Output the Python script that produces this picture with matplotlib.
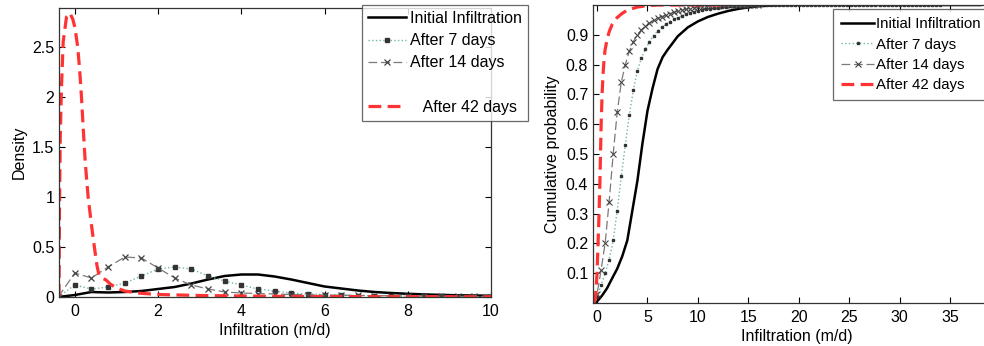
import numpy as np
import matplotlib
matplotlib.use("Agg")
import matplotlib.pyplot as plt
from matplotlib.ticker import FormatStrFormatter
from matplotlib.lines import Line2D

plt.rcParams['font.family'] = ['Liberation Sans', 'DejaVu Sans']
plt.rcParams['font.size'] = 11.5

# ---- density panel data ----
dens_x = [-0.4, 0.0, 0.4, 0.8, 1.2, 1.6, 2.0, 2.4, 2.8, 3.2, 3.6, 4.0, 4.4, 4.8,
          5.2, 5.6, 6.0, 6.4, 6.8, 7.2, 7.6, 8.0, 8.4, 8.8, 9.2, 9.6, 10.0]
dens_initial = [0, 0.02, 0.05, 0.045, 0.05, 0.06, 0.08, 0.10, 0.135, 0.175,
                0.21, 0.225, 0.225, 0.205, 0.175, 0.14, 0.105, 0.085, 0.065,
                0.05, 0.04, 0.032, 0.026, 0.021, 0.017, 0.015, 0.013]
dens_7 = [0, 0.12, 0.08, 0.10, 0.14, 0.21, 0.28, 0.30, 0.28, 0.21, 0.16, 0.12,
          0.08, 0.06, 0.04, 0.03, 0.025, 0.02, 0.015, 0.012, 0.01, 0.008,
          0.007, 0.006, 0.005, 0.004, 0.004]
dens_14 = [0, 0.24, 0.19, 0.30, 0.40, 0.39, 0.29, 0.19, 0.12, 0.08, 0.05, 0.04,
           0.035, 0.03, 0.025, 0.022, 0.02, 0.018, 0.016, 0.014, 0.012, 0.01,
           0.009, 0.008, 0.007, 0.006, 0.005]
dens42_x = [-0.38, -0.37, -0.35, -0.32, -0.28, -0.2, -0.12, -0.05, 0.0, 0.07,
            0.12, 0.16, 0.2, 0.25, 0.32, 0.4, 0.47, 0.53, 0.58, 0.65, 0.75,
            0.85, 1.0, 1.2, 1.5, 2.0, 2.5, 3.0, 4.0, 5.0, 6.0, 8.0, 10.0]
dens_42 = [0, 0.8, 1.6, 2.1, 2.55, 2.8, 2.84, 2.78, 2.7, 2.5, 2.25, 2.0, 1.7,
           1.35, 1.0, 0.72, 0.5, 0.32, 0.22, 0.19, 0.17, 0.13, 0.09, 0.06,
           0.04, 0.025, 0.02, 0.015, 0.01, 0.006, 0.004, 0.003, 0.002]

# ---- cumulative panel data ----
cdf_init_x = [-0.4, 0, 0.5, 1.0, 1.5, 2.0, 2.5, 3.0, 3.5, 4.0, 4.5, 5.0, 5.5,
              6.0, 6.5, 7.0, 8.0, 9.0, 10.0, 11.0, 12.0, 13.0, 14.0, 15.0,
              16.0, 18.0, 20.0, 38.0]
cdf_init = [0, 0.005, 0.025, 0.05, 0.083, 0.115, 0.157, 0.21, 0.31, 0.41,
            0.535, 0.645, 0.72, 0.785, 0.825, 0.85, 0.895, 0.925, 0.945, 0.96,
            0.971, 0.98, 0.987, 0.992, 0.996, 0.999, 1.0, 1.0]
cdf7_x = [-0.4, 0.0, 0.4, 0.8, 1.2, 1.6, 2.0, 2.4, 2.8, 3.2, 3.6, 4.0, 4.4, 4.8,
          5.2, 5.6, 6.0, 6.4, 6.8, 7.2, 7.6, 8.0, 8.4, 8.8, 9.2, 9.6, 10.0,
          10.4, 10.8, 11.2, 11.6, 12.0, 12.4, 12.8, 13.2, 13.6, 14.0, 14.4,
          14.8, 15.2, 15.6, 16.0, 16.4, 16.8, 17.2, 17.6, 18.0, 18.4, 18.8,
          19.2, 19.6, 20.0, 20.4, 20.8, 21.2, 21.6, 22.0, 22.4, 22.8, 23.2,
          23.6, 24.0, 24.4, 24.8, 25.2, 25.6, 26.0, 26.4, 26.8, 27.2, 27.6,
          28.0, 28.4, 28.8, 29.2, 29.6, 30.0, 30.4, 30.8, 31.2, 31.6, 32.0,
          32.4, 32.8, 33.2, 33.6, 34.0]
cdf_7 = [0, 0.02, 0.06, 0.10, 0.145, 0.21, 0.31, 0.425, 0.53, 0.63, 0.715,
         0.78, 0.822, 0.852, 0.877, 0.897, 0.912, 0.925, 0.935, 0.944, 0.952,
         0.958, 0.964, 0.969, 0.973, 0.977, 0.98, 0.983, 0.985, 0.987, 0.989,
         0.991, 0.993, 0.994, 0.995, 0.996, 0.997, 0.998, 0.998, 0.999, 1.0,
         1.0, 1.0, 1.0, 1.0, 1.0, 1.0, 1.0, 1.0, 1.0, 1.0, 1.0, 1.0, 1.0, 1.0,
         1.0, 1.0, 1.0, 1.0, 1.0, 1.0, 1.0, 1.0, 1.0, 1.0, 1.0, 1.0, 1.0, 1.0,
         1.0, 1.0, 1.0, 1.0, 1.0, 1.0, 1.0, 1.0, 1.0, 1.0, 1.0, 1.0, 1.0, 1.0,
         1.0, 1.0, 1.0, 1.0]
cdf14_x = [-0.4, 0.0, 0.4, 0.8, 1.2, 1.6, 2.0, 2.4, 2.8, 3.2, 3.6, 4.0, 4.4,
           4.8, 5.2, 5.6, 6.0, 6.4, 6.8, 7.2, 7.6, 8.0, 8.4, 8.8, 9.2, 9.6,
           10.0, 10.4, 10.8, 11.2, 11.6, 12.0, 12.4, 12.8, 13.2, 13.6, 14.0,
           14.4, 14.8, 15.2, 15.6, 16.0]
cdf_14 = [0, 0.03, 0.11, 0.20, 0.34, 0.50, 0.64, 0.74, 0.80, 0.845, 0.877,
          0.90, 0.917, 0.93, 0.94, 0.948, 0.955, 0.961, 0.966, 0.971, 0.975,
          0.979, 0.982, 0.985, 0.988, 0.99, 0.992, 0.994, 0.995, 0.996, 0.997,
          0.998, 0.999, 1.0, 1.0, 1.0, 1.0, 1.0, 1.0, 1.0, 1.0, 1.0]
cdf42_x = [-0.4, -0.3, -0.2, -0.1, 0, 0.1, 0.2, 0.3, 0.4, 0.5, 0.6, 0.7, 0.8,
           1.0, 1.2, 1.5, 2.0, 2.5, 3.0, 4.0, 5.0, 6.0, 8.0, 13.0]
cdf_42 = [0, 0.003, 0.01, 0.04, 0.10, 0.2, 0.3, 0.43, 0.59, 0.70, 0.77, 0.82,
          0.85, 0.885, 0.91, 0.935, 0.958, 0.972, 0.983, 0.993, 0.998, 1.0,
          1.0, 1.0]

labels = ["Initial Infiltration", "After 7 days", "After 14 days", "After 42 days"]

RED = "#ff3333"
TEAL = "#6fb5aa"
GREY = "#7a7a7a"

W, H = 984, 346
fig = plt.figure(figsize=(W / 100, H / 100), dpi=100)

ax1 = fig.add_axes([59 / W, (H - 297) / H, 432 / W, 289 / H])
ax2 = fig.add_axes([593 / W, (H - 303) / H, 407.6 / W, 298 / H])


def style(ax):
    ax.tick_params(direction="in", length=4, top=True, right=True,
                   colors="black", width=0.8)
    ax.tick_params(axis="x", pad=5)
    for s in ax.spines.values():
        s.set_color("#333333")
        s.set_linewidth(0.9)


# density
h1, = ax1.plot(dens_x, dens_initial, color="black", lw=1.8)
h2, = ax1.plot(dens_x, dens_7, color=TEAL, ls=":", lw=1.0, marker="s",
               ms=2.3, mfc="#333333", mec="#333333")
h3, = ax1.plot(dens_x, dens_14, color=GREY, ls=(0, (7, 3)), lw=0.9,
               marker="x", ms=4.5, mec="#444444", mew=0.9)
h4, = ax1.plot(dens42_x, dens_42, color=RED, ls=(0, (4, 2)), lw=2.3)
ax1.set_xlim(-0.38, 10)
ax1.set_ylim(0, 2.89)
ax1.set_xticks([0, 2, 4, 6, 8, 10])
ax1.set_yticks([0, 0.5, 1, 1.5, 2, 2.5])
ax1.yaxis.set_major_formatter(FormatStrFormatter('%g'))
ax1.set_xlabel("Infiltration (m/d)", labelpad=3)
ax1.set_ylabel("Density", labelpad=4)
style(ax1)

blank = Line2D([], [], color="none")
leg1 = fig.legend([h1, h2, h3, blank, h4],
                  [labels[0], labels[1], labels[2], " ", "   " + labels[3]],
                  loc="upper left", bbox_to_anchor=(362 / W, 1 - 5 / H),
                  frameon=True, fancybox=False, edgecolor="#444444",
                  handlelength=2.4, handletextpad=0.2, labelspacing=0.45,
                  borderpad=0.38, borderaxespad=0)
leg1.get_frame().set_linewidth(0.9)

# cumulative
g1, = ax2.plot(cdf_init_x, cdf_init, color="black", lw=1.8)
g2, = ax2.plot(cdf7_x, cdf_7, color=TEAL, ls=":", lw=1.0, marker="s",
               ms=1.9, mfc="#333333", mec="#333333")
g3, = ax2.plot(cdf14_x, cdf_14, color=GREY, ls=(0, (7, 3)), lw=0.9,
               marker="x", ms=4.0, mec="#444444", mew=0.8)
g4, = ax2.plot(cdf42_x, cdf_42, color=RED, ls=(0, (4, 2)), lw=2.3)
ax2.set_xlim(-0.4, 40)
ax2.set_ylim(0, 1)
ax2.set_xticks([0, 5, 10, 15, 20, 25, 30, 35])
ax2.set_yticks([0.1, 0.2, 0.3, 0.4, 0.5, 0.6, 0.7, 0.8, 0.9])
ax2.yaxis.set_major_formatter(FormatStrFormatter('%g'))
ax2.set_xlabel("Infiltration (m/d)", labelpad=3)
ax2.set_ylabel("Cumulative probability", labelpad=4)
style(ax2)

leg2 = fig.legend([g1, g2, g3, g4], labels, fontsize=10.8,
                  loc="upper left", bbox_to_anchor=(833 / W, 1 - 9 / H),
                  frameon=True, fancybox=False, edgecolor="#444444",
                  handlelength=2.2, handletextpad=0.15, labelspacing=0.42,
                  borderpad=0.55, borderaxespad=0)
leg2.get_frame().set_linewidth(0.9)

fig.savefig("out.png", dpi=100)
